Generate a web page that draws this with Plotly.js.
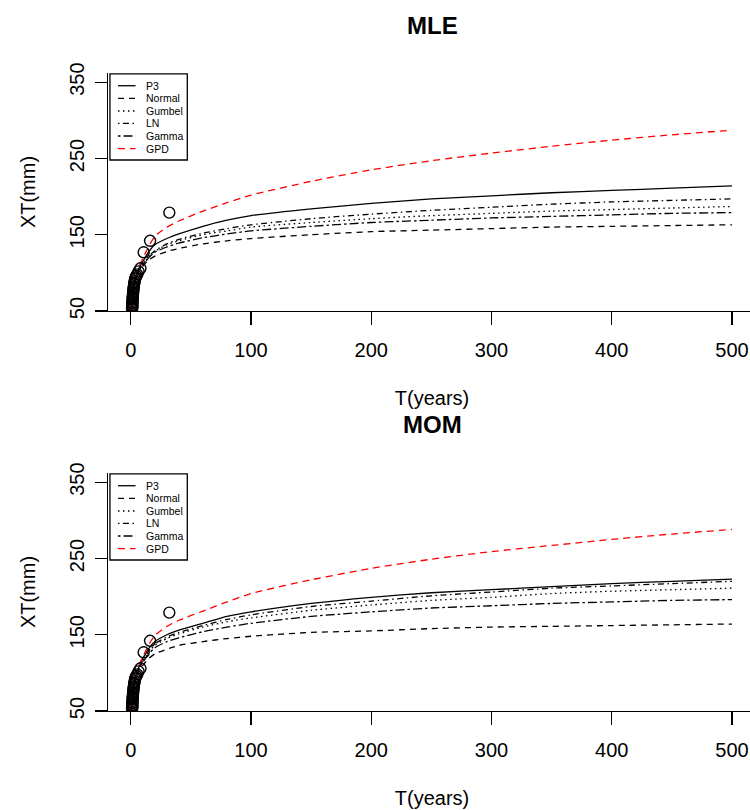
<!DOCTYPE html>
<html>
<head>
<meta charset="utf-8">
<script src="https://cdn.plot.ly/plotly-3.0.1.min.js"></script>
<style>
html,body{margin:0;padding:0;background:#fff;overflow:hidden;width:750px;height:810px;}
#chart{width:800px;height:810px;}
</style>
</head>
<body>
<div id="chart"></div>
<script>
// Return periods (years) at which the fitted curves are read
const T = [1.01, 1.2, 1.5, 2, 3, 5, 7, 10, 15, 20, 30, 40, 60, 80, 100, 150, 200, 250, 300, 350, 400, 450, 500];

// MLE fitted quantiles XT (mm)
const mleP3     = [45, 56, 64, 74, 86, 99, 107, 115, 128, 137, 145, 151, 161, 169, 175, 184, 191, 197, 201, 205, 208, 211, 214];
const mleNormal = [25, 50, 62, 76, 87, 98, 104, 109, 117, 122, 128, 132, 138, 142, 145, 150, 154, 156, 158, 160, 161, 162, 163];
const mleGumbel = [42, 55, 63, 73, 84, 96, 104, 111, 121, 128, 137, 142, 150, 155, 160, 166, 171, 175, 178, 181, 183, 185, 187];
const mleLN     = [48, 57, 64, 73, 84, 96, 103, 111, 122, 129, 138, 144, 152, 158, 163, 171, 177, 182, 186, 190, 193, 195, 197];
const mleGamma  = [44, 56, 64, 74, 85, 97, 104, 110, 120, 127, 134, 139, 146, 151, 155, 161, 166, 169, 172, 174, 176, 178, 179];
const mleGPD    = [48, 57, 65, 75, 87, 100, 109, 119, 135, 148, 160, 168, 181, 192, 202, 220, 235, 247, 257, 266, 274, 281, 287];

// MOM fitted quantiles XT (mm)
const momP3     = [44, 56, 64, 74, 86, 100, 109, 119, 132, 141, 150, 156, 165, 174, 180, 191, 199, 205, 209, 213, 217, 220, 223];
const momNormal = [25, 50, 62, 75, 86, 97, 104, 110, 119, 125, 131, 136, 141, 145, 148, 153, 155, 158, 160, 161, 162, 163, 164];
const momGumbel = [40, 54, 63, 73, 85, 98, 107, 116, 128, 136, 145, 151, 160, 167, 172, 182, 189, 195, 199, 204, 207, 209, 211];
const momLN     = [46, 56, 64, 73, 85, 98, 107, 117, 129, 138, 147, 153, 162, 170, 176, 187, 194, 201, 206, 211, 214, 217, 220];
const momGamma  = [42, 55, 63, 74, 85, 98, 106, 114, 125, 133, 141, 146, 154, 160, 165, 174, 180, 185, 188, 191, 193, 195, 196];
const momGPD    = [48, 57, 65, 75, 88, 101, 111, 121, 137, 149, 161, 169, 181, 193, 204, 222, 237, 249, 259, 267, 275, 282, 288];

// Observed annual maxima, with their empirical return periods
const obsT = [32, 16, 10.67, 8, 6.4, 5.33, 4.57, 4, 3.56, 3.2, 2.91, 2.67, 2.46, 2.29, 2.13, 2, 1.88, 1.78, 1.68, 1.6, 1.52, 1.45, 1.39, 1.33, 1.28, 1.23, 1.19, 1.14, 1.1, 1.07, 1.03];
const obsX = [179, 142, 127, 106, 102, 98, 96, 94, 92, 89, 87, 85, 82, 80, 78, 76, 74, 72, 70, 68, 67, 65, 63, 61, 60, 58, 57, 56, 55, 54, 53];

const seriesNames = ["P3", "Normal", "Gumbel", "LN", "Gamma", "GPD"];
const xTicks = [0, 100, 200, 300, 400, 500];
const yTicks = [50, 150, 250, 350];
const panelTitles = ["MLE", "MOM"];

const styles = {
  "P3":     {color: "#000", dash: "solid"},
  "Normal": {color: "#000", dash: "6px,5px"},
  "Gumbel": {color: "#000", dash: "1.5px,3.5px"},
  "LN":     {color: "#000", dash: "1.5px,3.5px,6px,3.5px"},
  "Gamma":  {color: "#000", dash: "2.5px,3px,9px,3px"},
  "GPD":    {color: "#ff0000", dash: "7px,5px"}
};

const FONT = "Liberation Sans, Arial, Helvetica, sans-serif";
const panels = [
  {xa: "x", ya: "y", vals: [mleP3, mleNormal, mleGumbel, mleLN, mleGamma, mleGPD]},
  {xa: "x2", ya: "y2", vals: [momP3, momNormal, momGumbel, momLN, momGamma, momGPD]}
];

const traces = [];
panels.forEach(p => {
  seriesNames.forEach((nm, i) => {
    traces.push({
      x: T, y: p.vals[i], xaxis: p.xa, yaxis: p.ya, type: "scatter", mode: "lines",
      name: nm, showlegend: false, hoverinfo: "skip",
      line: {color: styles[nm].color, dash: styles[nm].dash, width: 1.3, shape: "spline", smoothing: 0.6}
    });
  });
  traces.push({
    x: obsT, y: obsX, xaxis: p.xa, yaxis: p.ya, type: "scatter", mode: "markers",
    showlegend: false, hoverinfo: "skip",
    marker: {symbol: "circle-open", size: 11, color: "#000", line: {width: 1.4, color: "#000"}}
  });
});

function xAxis(anchor) {
  return {
    anchor: anchor, range: [-19, 520], tickvals: xTicks, ticktext: xTicks.map(String),
    showline: true, linecolor: "#000", linewidth: 1.3, mirror: false,
    ticks: "outside", ticklen: 13, tickwidth: 1.3, tickcolor: "#000",
    showgrid: false, zeroline: false, ticklabelstandoff: 8,
    tickfont: {family: FONT, size: 20, color: "#000"},
    title: {text: "T(years)", font: {family: FONT, size: 20, color: "#000"}, standoff: 30}
  };
}
function yAxis(anchor, dom) {
  return {
    anchor: anchor, domain: dom, range: [50, 362], tickvals: yTicks, ticktext: yTicks.map(String),
    tickangle: -90,
    showline: true, linecolor: "#000", linewidth: 1.3, mirror: false,
    ticks: "outside", ticklen: 12, tickwidth: 1.3, tickcolor: "#000",
    showgrid: false, zeroline: false, ticklabelstandoff: 3,
    tickfont: {family: FONT, size: 20, color: "#000"},
    title: {text: "XT(mm)", font: {family: FONT, size: 20, color: "#000"}, standoff: 24}
  };
}

// Manual legends (box + sample lines + labels), in axis-domain coordinates
const shapes = [];
const annotations = [];
const rowY = [0.9466, 0.8937, 0.8403, 0.7887, 0.7353, 0.682];
[["x domain", "y domain"], ["x2 domain", "y2 domain"]].forEach(([xr, yr]) => {
  shapes.push({type: "rect", xref: xr, yref: yr, x0: 0.003, x1: 0.1224, y0: 0.6345, y1: 0.996,
    line: {color: "#000", width: 1.3}, fillcolor: "rgba(255,255,255,1)", layer: "above"});
  seriesNames.forEach((nm, i) => {
    shapes.push({type: "line", xref: xr, yref: yr, x0: 0.0154, x1: 0.0425, y0: rowY[i], y1: rowY[i],
      line: {color: styles[nm].color, dash: styles[nm].dash, width: 1.3}, layer: "above"});
    annotations.push({xref: xr, yref: yr, x: 0.056, y: rowY[i], text: nm, showarrow: false,
      xanchor: "left", yanchor: "middle", font: {family: FONT, size: 10.5, color: "#000"}});
  });
});
// Panel titles
annotations.push({xref: "paper", yref: "paper", x: 0.5, y: 1.075, text: "<b>" + panelTitles[0] + "</b>", showarrow: false,
  xanchor: "center", yanchor: "middle", font: {family: FONT, size: 24, color: "#000"}});
annotations.push({xref: "paper", yref: "paper", x: 0.5, y: 0.4498, text: "<b>" + panelTitles[1] + "</b>", showarrow: false,
  xanchor: "center", yanchor: "middle", font: {family: FONT, size: 24, color: "#000"}});

const layout = {
  width: 800, height: 810,
  margin: {l: 108, r: 44, t: 73, b: 99},
  paper_bgcolor: "#fff", plot_bgcolor: "#fff",
  showlegend: false,
  xaxis: xAxis("y"),
  yaxis: yAxis("x", [0.62696, 1]),
  xaxis2: xAxis("y2"),
  yaxis2: yAxis("x2", [0, 0.37304]),
  shapes: shapes,
  annotations: annotations,
  font: {family: FONT, color: "#000"}
};

Plotly.newPlot("chart", traces, layout, {staticPlot: true, displayModeBar: false});
</script>
</body>
</html>
